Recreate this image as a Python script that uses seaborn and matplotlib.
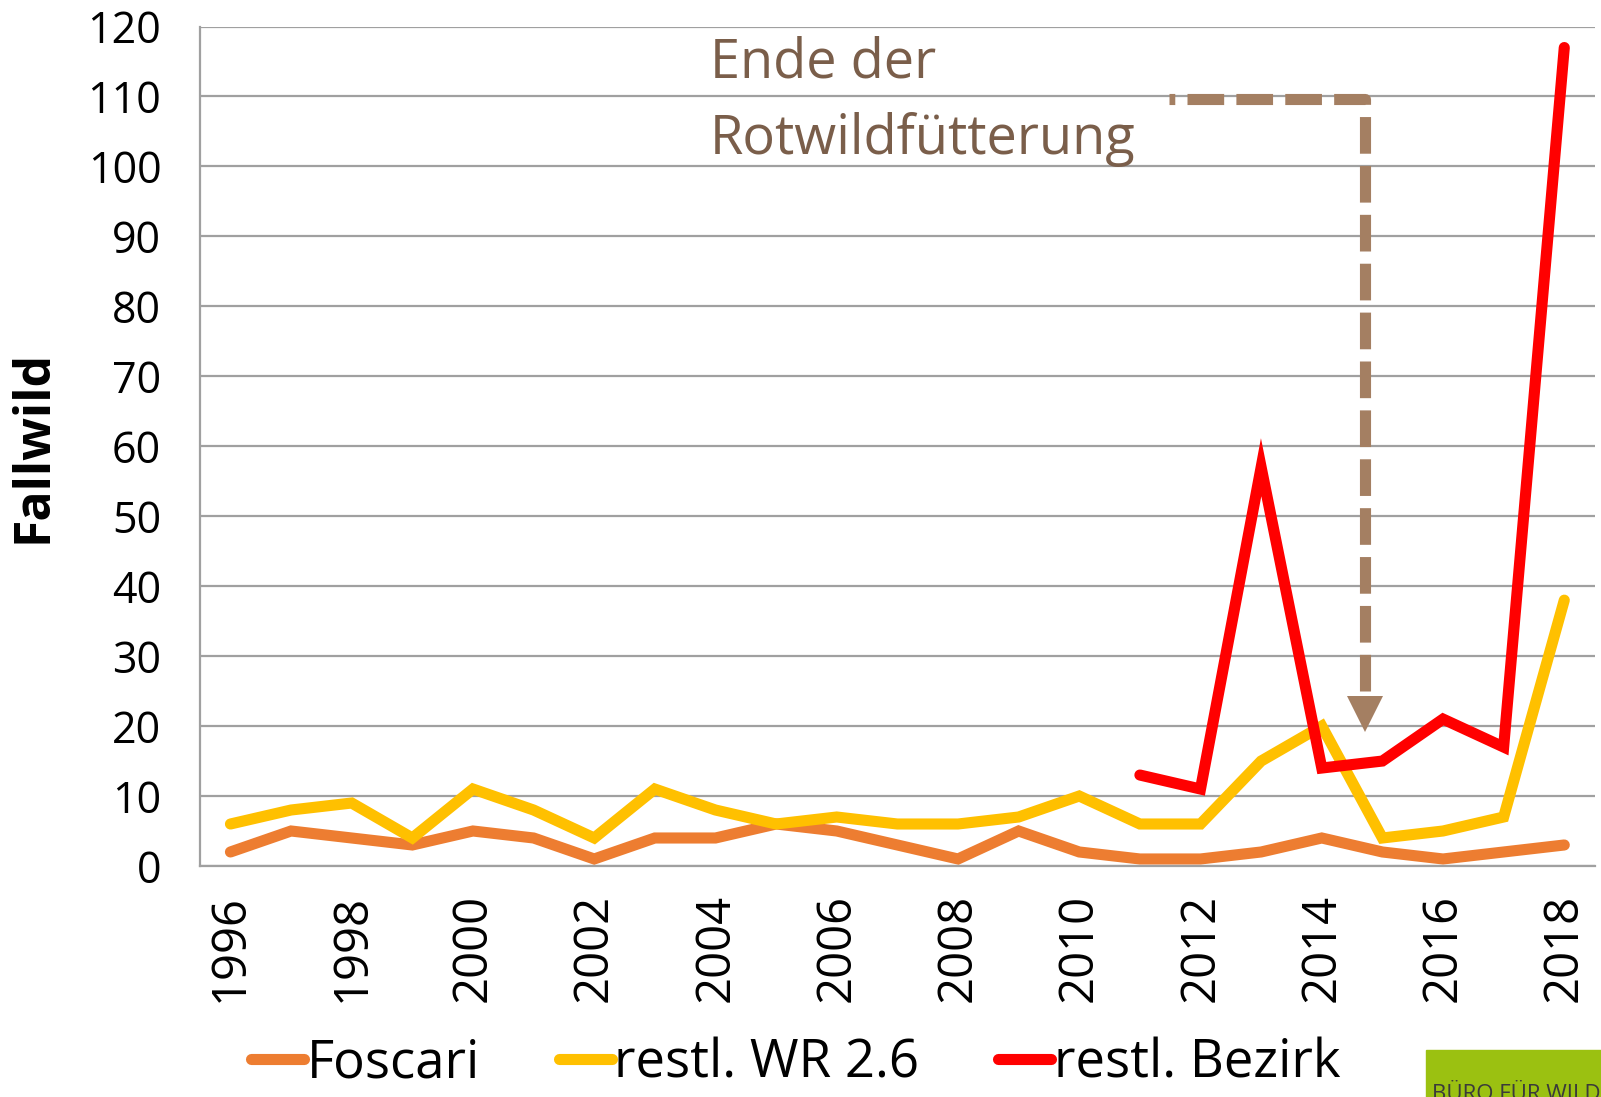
import numpy as np
import pandas as pd
import matplotlib
matplotlib.use("Agg")
import matplotlib.pyplot as plt
import seaborn as sns
from matplotlib.ticker import MultipleLocator

# Daten
jahre = list(range(1996, 2019))
foscari = [2, 5, 4, 3, 5, 4, 1, 4, 4, 6, 5, 3, 1, 5, 2, 1, 1, 2, 4, 2, 1, 2, 3]
restl_wr = [6, 8, 9, 4, 11, 8, 4, 11, 8, 6, 7, 6, 6, 7, 10, 6, 6, 15, 20, 4, 5, 7, 38]
bezirk_jahre = list(range(2011, 2019))
restl_bezirk = [13, 11, 57, 14, 15, 21, 17, 117]

farben = {"Foscari": "#ED7D31", "restl. WR 2.6": "#FFC000", "restl. Bezirk": "#FF0000"}

df = pd.concat([
    pd.DataFrame({"Jahr": jahre, "Fallwild": foscari, "Reihe": "Foscari"}),
    pd.DataFrame({"Jahr": jahre, "Fallwild": restl_wr, "Reihe": "restl. WR 2.6"}),
    pd.DataFrame({"Jahr": bezirk_jahre, "Fallwild": restl_bezirk, "Reihe": "restl. Bezirk"}),
])

sns.set_style("white")
plt.rcParams["font.family"] = ["Open Sans", "DejaVu Sans"]
plt.rcParams["text.color"] = "black"
plt.rcParams["xtick.labelcolor"] = "black"
plt.rcParams["ytick.labelcolor"] = "black"

fig = plt.figure(figsize=(16.01, 10.97), dpi=100)
ax = fig.add_axes([0.125, 0.2106, 0.871, 0.7652])

sns.lineplot(data=df, x="Jahr", y="Fallwild", hue="Reihe", palette=farben,
             linewidth=8, ax=ax, legend=False, solid_capstyle="round",
             solid_joinstyle="miter")

ax.set_xlim(1995.5, 2018.5)
ax.set_ylim(0, 120)
ax.yaxis.set_major_locator(MultipleLocator(10))
ax.grid(axis="y", color="#A0A0A0", linewidth=1.6)
ax.set_axisbelow(True)

# Kategorien-Achse wie in Excel: Striche zwischen den Jahren
ax.set_xticks(np.arange(1995.5, 2019, 1.0))
ax.set_xticklabels([])
ax.set_xticks(jahre[::2], minor=True)
ax.set_xticklabels([str(j) for j in jahre[::2]], minor=True, rotation=90,
                   fontsize=34)
ax.tick_params(axis="x", which="major", length=16, width=1.6, color="#A0A0A0",
               direction="out")
ax.tick_params(axis="x", which="minor", length=0, pad=20)
ax.tick_params(axis="y", length=14, width=1.6, color="#A0A0A0", labelsize=31,
               pad=14)

for s in ["top", "right"]:
    ax.spines[s].set_visible(False)
for s in ["left", "bottom"]:
    ax.spines[s].set_color("#A0A0A0")
    ax.spines[s].set_linewidth(1.6)

ax.set_xlabel("")
ax.set_ylabel("Fallwild", fontsize=36, fontweight="bold", color="black")
ax.yaxis.set_label_coords(-0.1015, 0.5)

# Pfeil: Ende der Rotwildfütterung (Pfad vom Pfeil aus gezeichnet)
braun = "#A47F62"
ax.plot([2014.72, 2014.72, 2011.48], [25.0, 109.6, 109.6], color=braun,
        linewidth=8, dashes=(3.3, 1.1), dash_capstyle="butt", clip_on=False)
ax.plot([2014.72], [21.7], marker="v", markersize=26, color=braun,
        markeredgewidth=0)

fig.text(0.4435, 0.943, "Ende der", fontsize=39, color="#7A5E4A", va="center")
fig.text(0.4435, 0.873, "Rotwildfütterung", fontsize=39, color="#7A5E4A",
         va="center")

# Legende
handles = [plt.Line2D([], [], color=c, linewidth=8, solid_capstyle="round")
           for c in farben.values()]
fig.legend(handles, list(farben.keys()), loc="center", ncol=3,
           bbox_to_anchor=(0.497, 0.03), frameon=False, fontsize=38,
           handlelength=1.0, handletextpad=0.05, columnspacing=1.5,
           borderpad=0.1)

# Logo unten rechts (im Original abgeschnitten)
fig.patches.append(plt.Rectangle((0.891, 0.0), 0.12, 0.043,
                                 transform=fig.transFigure, color="#9BC111"))
fig.text(0.8945, 0.0115, "BÜRO FÜR WILD", fontsize=16, color="#3A3A3A",
         va="top")

fig.savefig("out.png", dpi=100)
